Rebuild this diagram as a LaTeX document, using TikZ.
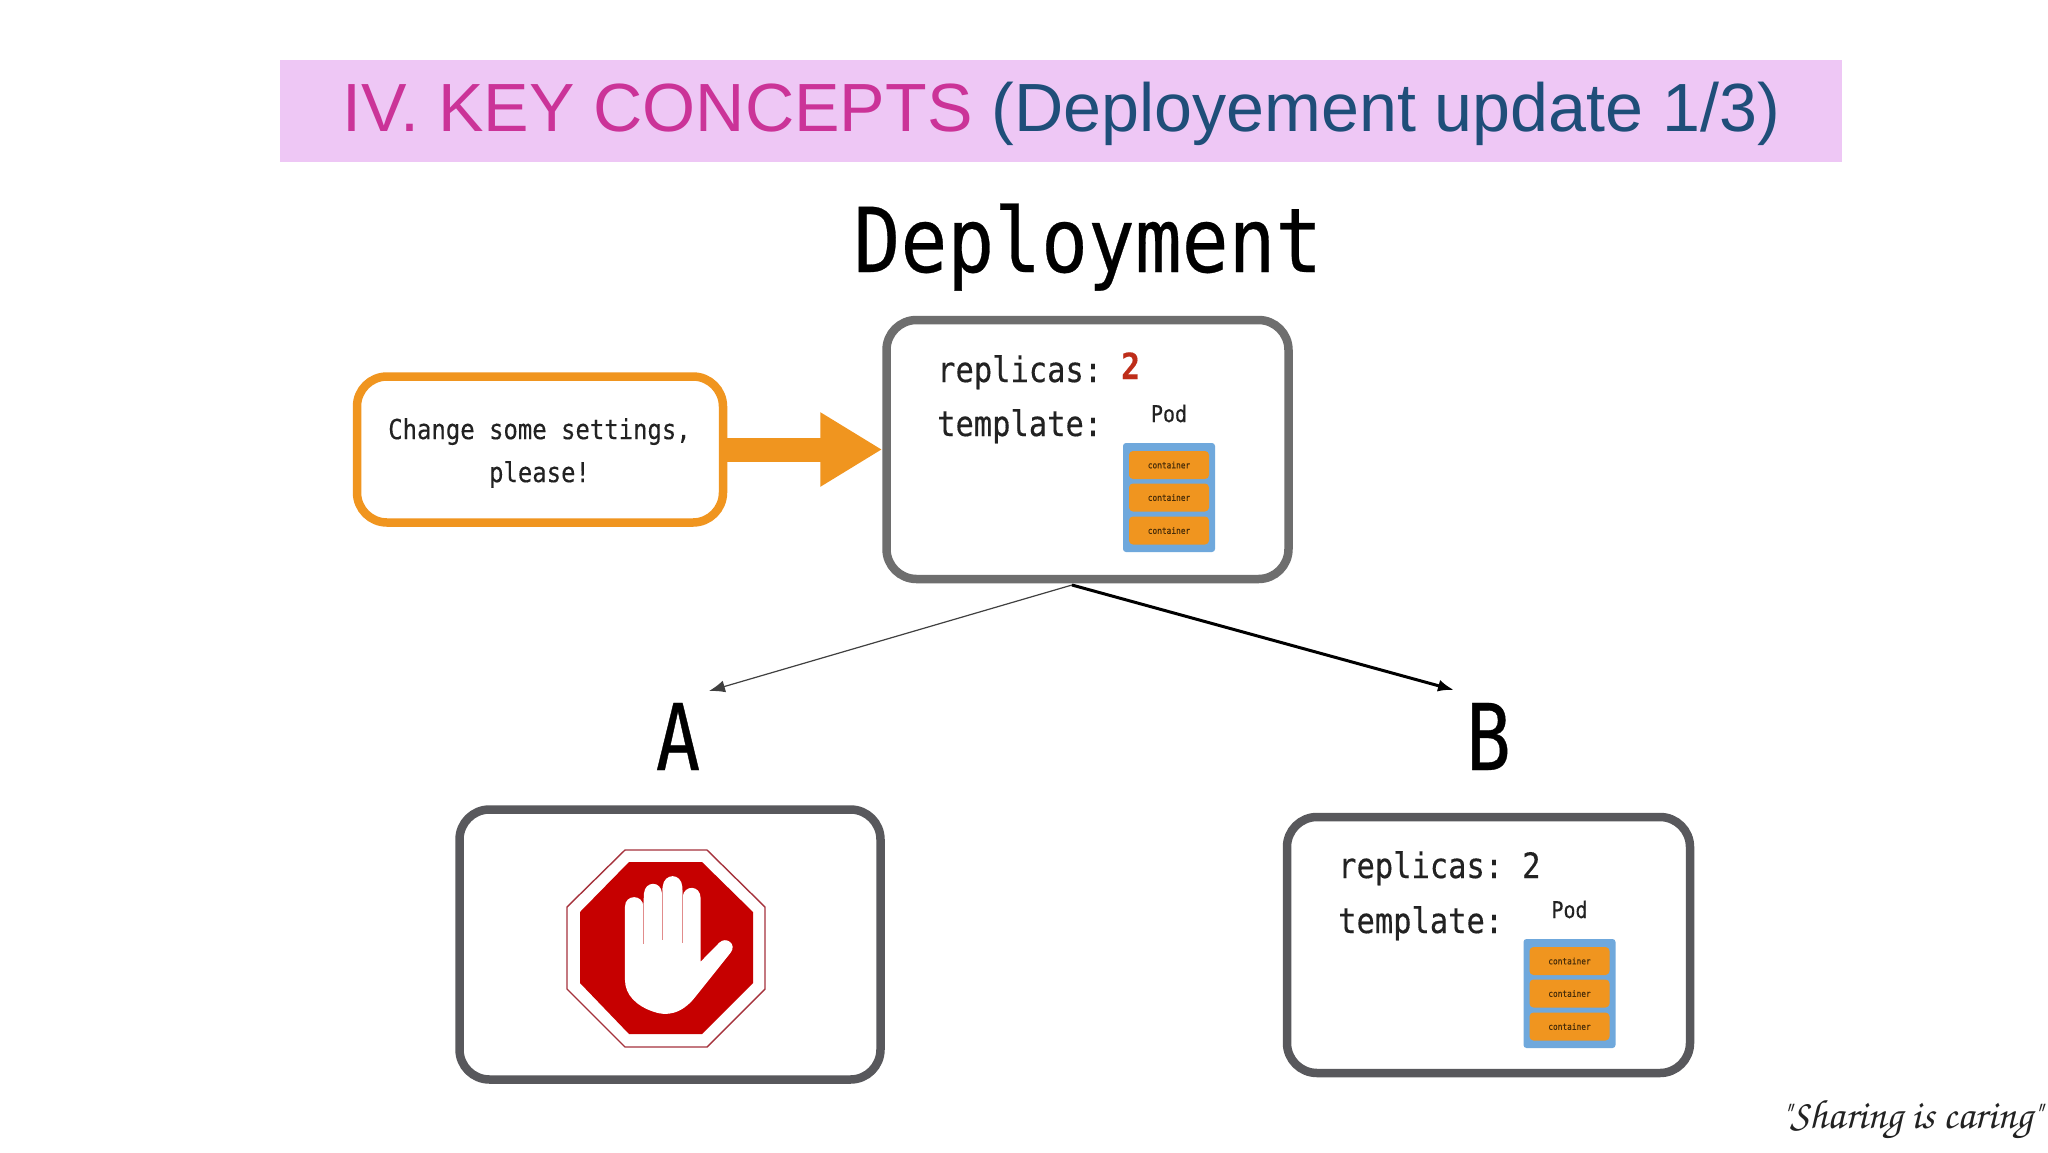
\documentclass[tikz,border=0pt]{standalone}
\usepackage[T1]{fontenc}
\usepackage{fontspec}
\usetikzlibrary{arrows.meta}
\setmainfont{Liberation Sans}
\newfontfamily\monofam{DejaVu Sans Mono}[FakeStretch=0.87,FakeBold=0.3]
\newfontfamily\letterfam{DejaVu Sans Mono}[FakeStretch=0.8,FakeBold=0.4]
\newcommand{\px}[2]{\fontsize{#1}{#2}\selectfont}
\definecolor{headbg}{HTML}{EEC7F5}
\definecolor{headpink}{HTML}{CB3398}
\definecolor{headblue}{HTML}{1F4E79}
\definecolor{boxgray}{HTML}{6E6E6E}
\definecolor{boxdark}{HTML}{58585C}
\definecolor{orangeline}{HTML}{F0951F}
\definecolor{podblue}{HTML}{6FA8DC}
\definecolor{stopred}{HTML}{C60000}
\definecolor{inktext}{HTML}{222222}
\tikzset{
  x=1pt, y=-1pt,
  box/.style={draw, line width=8.5pt, rounded corners=30pt, fill=white, inner sep=0pt},
  code/.style={anchor=base west, inner sep=0pt, text=inktext, font=\monofam\px{35}{40}},
  bigletter/.style={anchor=base, inner sep=0pt, text=black, font=\letterfam\px{92}{100}},
  cont/.style={fill=orangeline, rounded corners=4pt, minimum width=80pt, minimum height=28pt,
    inner sep=0pt, text=black!70!orangeline, font=\monofam\px{9}{10}},
  podstack/.pic={
    \node[anchor=base, inner sep=0pt, text=inktext, font=\monofam\px{23}{25}] (label) at (0,-75.5) {Pod};
    \node[fill=podblue, rounded corners=3pt, minimum width=92pt, minimum height=109pt] (body) at (0,0) {};
    \node[cont] (c1) at (0,-32.5) {container};
    \node[cont] (c2) at (0,0) {container};
    \node[cont] (c3) at (0,33) {container};
  },
}
\begin{document}
\begin{tikzpicture}
\useasboundingbox (0,0) rectangle (2048,1152);
\fill[white] (0,0) rectangle (2048,1152);

% header
\node[fill=headbg, minimum width=1562pt, minimum height=102pt, inner sep=0pt] (head) at (1061,111) {};
\node[anchor=base west, inner sep=0pt, font=\px{68.2}{70}] (title) at (342,131)
  {\textcolor{headpink}{IV. KEY CONCEPTS} \textcolor{headblue}{(Deployement update 1/3)}};

% deployment box
\node[anchor=base, inner sep=0pt, text=black, font=\monofam\px{89.5}{95}] (dep) at (1088,272) {Deployment};
\node[box, draw=boxgray, minimum width=402pt, minimum height=259pt] (deploy) at (1087.5,449.5) {};
\node[code] (r1) at (937,382) {replicas:};
\node[code] (t1) at (937,436) {template:};
\node[code, text={rgb,255:red,190;green,45;blue,25}, font=\monofam\bfseries\px{36}{40}] (n1) at (1121,379) {2};
\pic (p1) at (1169,497.5) {podstack};

% change request
\node[box, draw=orangeline, minimum width=366pt, minimum height=146pt] (change) at (540,449.5) {};
\node[inner sep=0pt, align=center, text=inktext, font=\monofam\px{27.5}{43}] (asktext) at (539.5,453)
  {Change some settings,\\please!};
\draw[-{Triangle[length=62pt,width=70pt]}, line width=24pt, draw=orangeline, fill=orangeline]
  (change.east) -- (deploy.west);

% versions
\coordinate (split) at (1072,585);
\coordinate (endA) at (709,691);
\coordinate (endB) at (1454,690);
\draw[-{Latex[length=16pt,width=12pt]}, line width=1.2pt, draw=black!75] (split) -- (endA);
\draw[-{Latex[length=16pt,width=12pt]}, line width=3pt, draw=black] (split) -- (endB);
\node[bigletter] (la) at (678,770) {A};
\node[bigletter] (lb) at (1488.5,770) {B};

% box A with stop sign
\node[box, draw=boxdark, minimum width=421pt, minimum height=270pt] (boxa) at (670,944.5) {};
\filldraw[draw={rgb,255:red,165;green,50;blue,60}, fill=white, line width=1.4pt]
  (625,850) -- (707,850) -- (765,907) -- (765,989) -- (707,1047) -- (625,1047) -- (567,989) -- (567,907) -- cycle;
\fill[stopred]
  (629,862) -- (702,862) -- (753,912) -- (753,983) -- (702,1034) -- (629,1034) -- (580,983) -- (580,912) -- cycle;
\begin{scope}[shift={(440,790)}, x=0.3333pt, y=-0.3333pt]
  \fill[white] (555,350) .. controls (555,312) and (610,312) .. (610,350)
    -- (612,310) .. controls (615,272) and (664,272) .. (666,310)
    -- (668,290) .. controls (672,248) and (724,248) .. (727,290)
    -- (728,320) .. controls (732,284) and (782,284) .. (782,325)
    -- (782,515) -- (838,458)
    .. controls (858,438) and (892,462) .. (872,488)
    -- (765,622)
    .. controls (725,672) and (680,680) .. (640,665)
    .. controls (590,648) and (555,615) .. (555,570) -- cycle;
  \draw[line width=0.9pt, draw={rgb,255:red,225;green,140;blue,140}]
    (610,340) -- (610,462) (666,300) -- (666,450) (727,300) -- (727,460);
\end{scope}

% box B
\node[box, draw=boxdark, minimum width=403pt, minimum height=256pt] (boxb) at (1488.5,945) {};
\node[code] (r2) at (1338,878) {replicas:};
\node[code] (t2) at (1338,933) {template:};
\node[code] (n2) at (1522,878) {2};
\pic (p2) at (1569.5,993.5) {podstack};

% signature
\node[anchor=base east, inner sep=0pt, text=inktext, font={\usefont{T1}{pzc}{mb}{it}\px{41}{46}}]
  (sign) at (2042,1128) {"Sharing is caring"};
\end{tikzpicture}
\end{document}
